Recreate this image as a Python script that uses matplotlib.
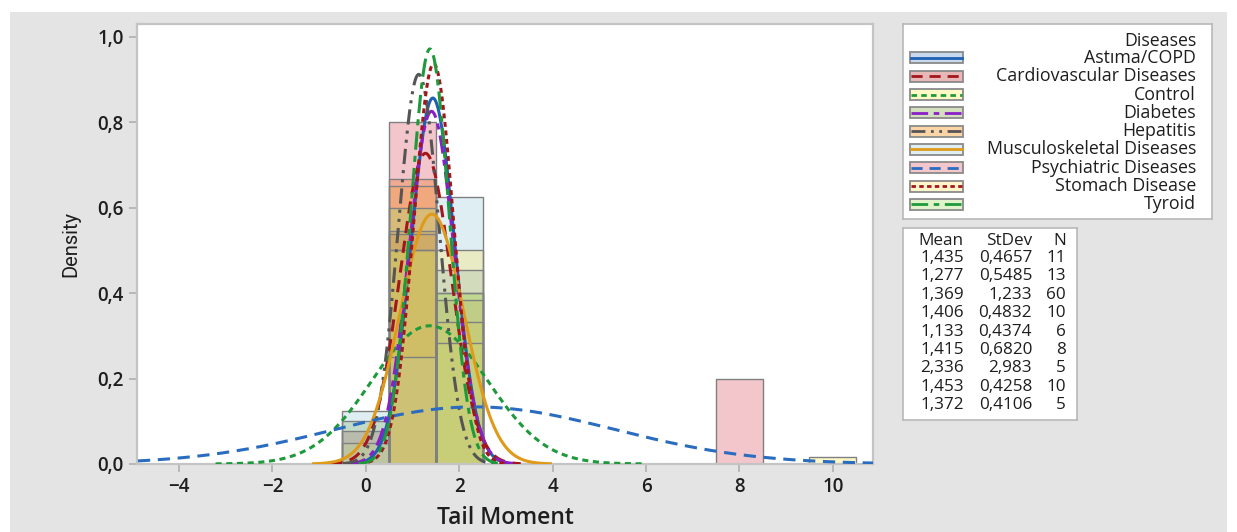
import numpy as np
import matplotlib.pyplot as plt
from matplotlib.patches import Rectangle
from matplotlib.lines import Line2D
from matplotlib.ticker import FuncFormatter
from matplotlib.colors import to_rgb

plt.rcParams['font.family'] = ['Open Sans', 'DejaVu Sans']

# groups, table values
groups = ['Astıma/COPD', 'Cardiovascular Diseases', 'Control', 'Diabetes', 'Hepatitis',
          'Musculoskeletal Diseases', 'Psychiatric Diseases', 'Stomach Disease', 'Tyroid']
means = [1.435, 1.277, 1.369, 1.406, 1.133, 1.415, 2.336, 1.453, 1.372]
stdevs = [0.4657, 0.5485, 1.233, 0.4832, 0.4374, 0.6820, 2.983, 0.4258, 0.4106]
ns = [11, 13, 60, 10, 6, 8, 5, 10, 5]

# histogram bins (width 1, centred) and counts per group
bin_centers = [0, 1, 2, 8, 10]
counts = [
    [0, 6, 5, 0, 0],
    [1, 7, 5, 0, 0],
    [3, 39, 17, 0, 1],
    [1, 5, 4, 0, 0],
    [0, 4, 2, 0, 0],
    [1, 2, 5, 0, 0],
    [0, 4, 0, 1, 0],
    [0, 5, 5, 0, 0],
    [0, 3, 2, 0, 0],
]

# pale fill colours as seen in the legend
pale = ['#c9d9ee', '#e8b8b8', '#fff8c8', '#d5e0bd', '#fdd6a8', '#dfeef4', '#f4c6cc', '#fff6cc', '#e2f3cc']
lines = ['#1f5fb4', '#a3161c', '#1e9a3c', '#8a1fc6', '#555555', '#e09a1a', '#2a6cc0', '#a3161c', '#1e9a3c']
dashes = [None, (4, 2.5), (2, 1.5), (6, 2, 2, 2), (5, 2, 1, 2, 1, 2), None, (4, 2.5), (1.6, 1.2), (6, 2, 2, 2)]
fill_alpha = 0.36
fills = [tuple(np.clip(1 - (1 - np.array(to_rgb(c))) / fill_alpha, 0, 1)) for c in pale]

txt = '#1e1e1e'

fig = plt.figure(figsize=(12.37, 5.32), dpi=100)
fig.patch.set_facecolor('white')
fig.patches.append(Rectangle((10 / 1237, 0), 1217 / 1237, 520 / 532, transform=fig.transFigure,
                             facecolor='#e4e4e4', edgecolor='none', zorder=-10))

ax = fig.add_axes([137 / 1237, 68 / 532, 736 / 1237, 440 / 532])

for i in range(len(groups)):
    dens = np.array(counts[i]) / ns[i]
    ax.bar(bin_centers, dens, width=1, color=fills[i], alpha=fill_alpha, edgecolor='none', zorder=1)
    ax.bar(bin_centers, dens, width=1, facecolor='none', edgecolor='#808080', linewidth=1, zorder=2)

for i in range(len(groups)):
    x = np.linspace(means[i] - 3.72 * stdevs[i], means[i] + 3.72 * stdevs[i], 400)
    y = np.exp(-0.5 * ((x - means[i]) / stdevs[i]) ** 2) / (stdevs[i] * np.sqrt(2 * np.pi))
    ln, = ax.plot(x, y, color=lines[i], linewidth=2.2, zorder=3)
    if dashes[i] is not None:
        ln.set_dashes(dashes[i])

ax.set_xlim(-4.9, 10.86)
ax.set_ylim(0, 1.03)
ax.set_xticks(range(-4, 11, 2))
ax.set_yticks([0, 0.2, 0.4, 0.6, 0.8, 1.0])
ax.yaxis.set_major_formatter(FuncFormatter(lambda v, p: ('%.1f' % v).replace('.', ',')))
ax.tick_params(direction='out', length=6, width=1.2, color='#b0b0b0', labelsize=13.5, labelcolor=txt)
for lab in ax.get_xticklabels() + ax.get_yticklabels():
    lab.set_fontweight('semibold')
for s in ax.spines.values():
    s.set_color('#c4c4c4')
    s.set_linewidth(1.6)
ax.set_xlabel('Tail Moment', fontsize=16.5, fontweight='semibold', labelpad=6, color=txt)
ax.set_ylabel('Density', fontsize=14.5, family=['Roboto', 'DejaVu Sans'], labelpad=12, color=txt)

# legend box
lg = fig.add_axes([903 / 1237, 313 / 532, 309 / 1237, 195 / 532])
lg.set_xlim(0, 309)
lg.set_ylim(195, 0)
lg.set_xticks([])
lg.set_yticks([])
for s in lg.spines.values():
    s.set_color('#b8b8b8')
    s.set_linewidth(1.2)
lg.text(293, 17, 'Diseases', ha='right', va='center', fontsize=12.8, fontweight='medium', color=txt)
for i, name in enumerate(groups):
    yy = 34 + i * 18.3
    lg.add_patch(Rectangle((7, yy - 5.5), 53, 11, facecolor='white', edgecolor='none'))
    lg.add_patch(Rectangle((7, yy - 5.5), 53, 11, facecolor=fills[i], alpha=fill_alpha, edgecolor='none'))
    lg.add_patch(Rectangle((7, yy - 5.5), 53, 11, facecolor='none', edgecolor='#8a8a8a', linewidth=1.3))
    l2 = Line2D([8, 59], [yy, yy], color=lines[i], linewidth=2)
    if dashes[i] is not None:
        l2.set_dashes(dashes[i])
    lg.add_line(l2)
    lg.text(293, yy, name, ha='right', va='center', fontsize=12.8, fontweight='medium', color=txt)

# stats table
tb = fig.add_axes([903 / 1237, 112 / 532, 174 / 1237, 192 / 532])
tb.set_xlim(0, 174)
tb.set_ylim(192, 0)
tb.set_xticks([])
tb.set_yticks([])
for s in tb.spines.values():
    s.set_color('#b8b8b8')
    s.set_linewidth(1.2)
cols = [61, 129, 163]
for cx, head in zip(cols, ['Mean', 'StDev', 'N']):
    tb.text(cx, 13, head, ha='right', va='center', fontsize=12.3, fontweight='medium', color=txt)
for i in range(len(groups)):
    yy = 30 + i * 18.4
    vals = [('%.3f' % means[i]).replace('.', ','), ('%#.4g' % stdevs[i]).replace('.', ','), str(ns[i])]
    for cx, v in zip(cols, vals):
        tb.text(cx, yy, v, ha='right', va='center', fontsize=12.3, fontweight='medium', color=txt)

fig.savefig('out.png', dpi=100)
